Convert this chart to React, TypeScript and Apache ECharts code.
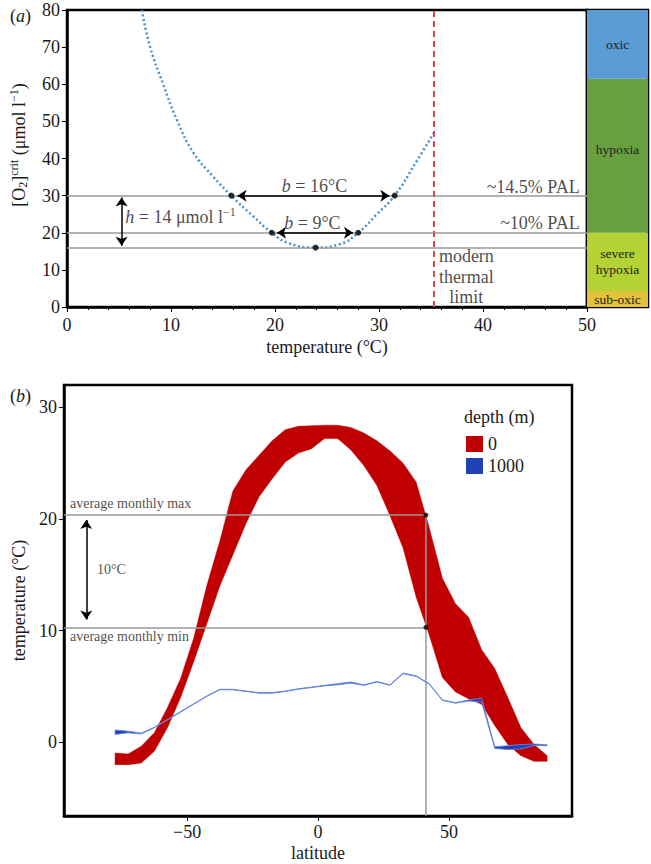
import React, { useEffect, useRef } from 'react';
import * as echarts from 'echarts';

const FONT = '"Liberation Serif", "DejaVu Serif", serif';
const INK = '#1a1a1a';

// ---------- Panel (a): critical O2 vs temperature ----------
const curveTemp = [7.2, 8, 9.25, 10.55, 12.15, 14.0, 15.8, 17.8, 19.7, 21.4, 23.9, 26.2, 28, 29.8, 31.5, 33.6, 35.3];
const curveO2 = [80, 70, 60, 50.5, 41.6, 35.3, 30, 24.7, 20, 17.1, 16, 16.9, 20, 25.0, 30, 39.2, 47];
const keyTemp = [15.8, 31.5, 19.7, 28, 23.9];
const keyO2 = [30, 30, 20, 20, 16];
const refLevels = [30, 20, 16];
const thermalLimit = 35.3;
const zoneNames = ['sub-oxic', 'severe\nhypoxia', 'hypoxia', 'oxic'];
const zoneBounds = [0, 4.3, 20, 61.5, 80];
const zoneColors = ['#E2C23A', '#B4D234', '#67A03F', '#5B9BD6'];
const tempTicks = [0, 50];
const o2Range = [0, 80];

// ---------- Panel (b): temperature vs latitude ----------
const latitude = [-77.5, -72.5, -67.5, -62.5, -57.5, -52.5, -47.5, -42.5, -37.5, -32.5, -27.5, -22.5, -17.5, -12.5, -7.5, -2.5,
  2.5, 7.5, 12.5, 17.5, 22.5, 27.5, 32.5, 37.5, 42.5, 47.5, 52.5, 57.5, 62.5, 67.5, 72.5, 77.5, 82.5, 87.5];
const surfaceMax = [-0.96, -1.05, -0.36, 0.85, 3.1, 5.7, 9.3, 14.0, 18.0, 22.5, 24.4, 25.7, 27.0, 28.0, 28.3, 28.35,
  28.4, 28.4, 28.2, 27.7, 27.0, 26.1, 25.0, 23.3, 19.2, 14.7, 12.4, 11.2, 8.3, 6.6, 4.0, 1.3, -0.2, -1.2];
const surfaceMin = [-2.0, -2.0, -1.85, -0.8, 1.3, 4.0, 7.2, 10.6, 14.0, 16.8, 19.6, 22.0, 23.6, 25.1, 25.9, 26.3,
  27.2, 27.2, 26.2, 24.8, 23.0, 20.3, 17.4, 13.0, 9.6, 5.8, 4.5, 3.9, 3.4, 1.5, -0.2, -1.2, -1.7, -1.7];
const deepMin = [0.7, 0.85, 0.75, 1.3, 2.0, 2.7, 3.4, 4.1, 4.7, 4.7, 4.55, 4.4, 4.4, 4.55, 4.75, 4.9,
  5.05, 5.15, 5.3, 5.1, 5.4, 5.1, 6.15, 5.9, 5.2, 3.75, 3.5, 3.7, 3.6, -0.55, -0.65, -0.6, -0.3, -0.3];
const deepMax = [1.1, 1.0, 0.82, 1.35, 2.05, 2.75, 3.45, 4.15, 4.75, 4.75, 4.6, 4.45, 4.45, 4.6, 4.8, 4.95,
  5.1, 5.25, 5.4, 5.15, 5.45, 5.15, 6.2, 5.95, 5.25, 3.8, 3.55, 3.8, 3.95, -0.4, -0.3, -0.2, -0.15, -0.22];
const latTicks = [-50, 0, 50];
const bTempTicks = [0, 10, 20, 30];
const latRange = [-97, 97];
const bTempRange = [-6.6, 32];
const avgMonthlyMax = 20.35;
const avgMonthlyMin = 10.3;
const refLatitude = 41.2;

const FS = 18;

const rich = {
  i: { fontStyle: 'italic', fontFamily: FONT, fontSize: FS, color: INK },
  sup: { fontFamily: FONT, fontSize: 12, color: INK, verticalAlign: 'top', lineHeight: 21 },
  sub: { fontFamily: FONT, fontSize: 12, color: INK, verticalAlign: 'bottom', lineHeight: 21 },
};

type Note = { text: string; x: number; y: number; pos: string; size: number; lh?: number };

const notesA: Note[] = [
  { text: '{i|b} = 16°C', x: 23.8, y: 32.6, pos: 'inside', size: FS },
  { text: '{i|b} = 9°C', x: 23.6, y: 22.6, pos: 'inside', size: FS },
  { text: '{i|h} = 14 μmol l{sup|−1}', x: 5.6, y: 24.3, pos: 'right', size: FS },
  { text: '~14.5% PAL', x: 49.3, y: 32.4, pos: 'left', size: FS },
  { text: '~10% PAL', x: 49.3, y: 22.5, pos: 'left', size: FS },
  { text: 'modern\nthermal\nlimit', x: 38.4, y: 8.1, pos: 'inside', size: FS, lh: 20.5 },
];
const notesB: Note[] = [
  { text: 'average monthly max', x: -94.7, y: 21.35, pos: 'right', size: 14 },
  { text: 'average monthly min', x: -94.7, y: 9.5, pos: 'right', size: 14 },
  { text: '10°C', x: -84.4, y: 15.5, pos: 'right', size: 14 },
];

function noteSeries(notes: Note[], xi: number, yi: number) {
  return {
    type: 'scatter', xAxisIndex: xi, yAxisIndex: yi, symbolSize: 0, silent: true, z: 20,
    data: notes.map((n) => ({
      value: [n.x, n.y],
      label: {
        show: true, position: n.pos, distance: 0, formatter: n.text,
        fontFamily: FONT, fontSize: n.size, color: INK, lineHeight: n.lh ?? n.size + 3,
        align: n.pos === 'right' ? 'left' : n.pos === 'left' ? 'right' : 'center',
        rich: { ...rich, i: { ...rich.i, fontSize: n.size } },
      },
    })),
  };
}

function arrow(from: number[], to: number[]) {
  return [{ coord: from }, { coord: to }];
}

function bandSeries(name: string, lo: number[], hi: number[], fill: string, stroke: string, strokeWidth: number) {
  return {
    type: 'custom', name, xAxisIndex: 2, yAxisIndex: 2, silent: true, clip: true,
    itemStyle: { color: fill },
    data: latitude.map((la, i) => [la, lo[i], hi[i]]),
    encode: { x: 0, y: [1, 2] },
    renderItem: (params: any, api: any) => {
      if (params.dataIndex !== 0) return null;
      const top = latitude.map((la, i) => api.coord([la, hi[i]]));
      const bottom = latitude.map((la, i) => api.coord([la, lo[i]])).reverse();
      return {
        type: 'polygon',
        shape: { points: [...top, ...bottom] },
        style: { fill, stroke, lineWidth: strokeWidth, lineJoin: 'round' },
      };
    },
  };
}

export default function App() {
  const ref = useRef<HTMLDivElement>(null);
  useEffect(() => {
    if (!ref.current) return;
    const chart = echarts.init(ref.current, null, { renderer: 'svg' });
    const axisName = { fontFamily: FONT, fontSize: FS, color: INK };
    const labelStyle = { fontFamily: FONT, fontSize: FS, color: INK };
    const blackLine = { onZero: false, lineStyle: { color: '#000', width: 2.5 } };

    const zoneSeries = zoneNames.map((nm, i) => ({
      type: 'bar', name: nm, xAxisIndex: 1, yAxisIndex: 1, stack: 'zones', barWidth: '100%',
      data: [zoneBounds[i + 1] - zoneBounds[i]], silent: true,
      itemStyle: { color: zoneColors[i] },
      label: {
        show: true, position: 'inside', formatter: nm, fontFamily: FONT, fontSize: 13.5, color: '#222', lineHeight: 16,
        offset: nm === 'hypoxia' ? [0, -6] : [0, 0],
      },
    }));

    const option: any = {
      animation: false,
      backgroundColor: '#fff',
      textStyle: { fontFamily: FONT },
      title: [
        { text: '({i|a})', left: 5, top: 2, textStyle: { fontFamily: FONT, fontSize: FS, fontWeight: 'normal', color: INK, rich } },
        { text: '({i|b})', left: 5, top: 382, textStyle: { fontFamily: FONT, fontSize: FS, fontWeight: 'normal', color: INK, rich } },
        { text: 'depth (m)', left: 459, top: 403, textStyle: { fontFamily: FONT, fontSize: FS, fontWeight: 'normal', color: INK } },
      ],
      legend: {
        data: [
          { name: '0', itemStyle: { color: '#C00000' } },
          { name: '1000', itemStyle: { color: '#1F41B5' } },
        ],
        orient: 'vertical', left: 461, top: 430, itemWidth: 17, itemHeight: 16, itemGap: 4, icon: 'rect',
        selectedMode: false, textStyle: { fontFamily: FONT, fontSize: FS, color: INK },
      },
      grid: [
        { left: 67, top: 10, width: 520, height: 297, show: true, borderColor: '#000', borderWidth: 2.5, containLabel: false, outerBoundsMode: 'none' },
        { left: 587, top: 10, width: 61, height: 297, show: true, borderColor: '#000', borderWidth: 2.5, containLabel: false, outerBoundsMode: 'none' },
        { left: 64, top: 385, width: 508, height: 431, show: true, borderColor: '#000', borderWidth: 2.5, containLabel: false, outerBoundsMode: 'none' },
      ],
      xAxis: [
        {
          gridIndex: 0, type: 'value', min: tempTicks[0], max: tempTicks[1], interval: 10,
          name: 'temperature (°C)', nameLocation: 'middle', nameGap: 31, nameTextStyle: axisName,
          axisLine: blackLine, axisTick: { show: true, length: 5, lineStyle: { color: '#000', width: 1 } },
          minorTick: { show: true, splitNumber: 5, length: 3, lineStyle: { color: '#000', width: 1 } },
          axisLabel: { ...labelStyle, margin: 9 }, splitLine: { show: false }, minorSplitLine: { show: false },
        },
        { gridIndex: 1, type: 'category', data: ['zone'], show: false },
        {
          gridIndex: 2, type: 'value', min: latRange[0], max: latRange[1],
          name: 'latitude', nameLocation: 'middle', nameGap: 28, nameTextStyle: axisName,
          axisLine: blackLine, axisTick: { show: true, length: 5, customValues: latTicks, lineStyle: { color: '#000', width: 1 } },
          axisLabel: { ...labelStyle, margin: 7, customValues: latTicks, formatter: (v: number) => String(v).replace('-', '−') },
          splitLine: { show: false },
        },
      ],
      yAxis: [
        {
          gridIndex: 0, type: 'value', min: o2Range[0], max: o2Range[1], interval: 10,
          name: '\u2003\u2002[O{sub|2}]{sup|crit} (μmol l{sup|−1})', nameLocation: 'middle', nameGap: 38,
          nameTextStyle: { ...axisName, lineHeight: 21, rich },
          axisLine: blackLine, axisTick: { show: true, length: 5, lineStyle: { color: '#000', width: 1 } },
          axisLabel: { ...labelStyle, margin: 7 }, splitLine: { show: false },
        },
        { gridIndex: 1, type: 'value', min: o2Range[0], max: o2Range[1], show: false, splitLine: { show: false } },
        {
          gridIndex: 2, type: 'value', min: bTempRange[0], max: bTempRange[1],
          name: 'temperature (°C)', nameLocation: 'middle', nameGap: 35, nameTextStyle: axisName,
          axisLine: blackLine, axisTick: { show: true, length: 5, customValues: bTempTicks, lineStyle: { color: '#000', width: 1 } },
          axisLabel: { ...labelStyle, margin: 7, customValues: bTempTicks }, splitLine: { show: false },
        },
      ],
      series: [
        // ---- panel (a)
        {
          type: 'line', xAxisIndex: 0, yAxisIndex: 0, data: [], silent: true,
          markLine: {
            silent: true, symbol: 'none', label: { show: false },
            data: [
              ...refLevels.map((v) => ({ yAxis: v, lineStyle: { color: '#9a9a9a', width: 1.5, type: 'solid' } })),
              { xAxis: thermalLimit, lineStyle: { color: '#E04848', width: 2, type: [6, 4] } },
            ],
          },
        },
        {
          type: 'line', xAxisIndex: 0, yAxisIndex: 0, smooth: 0.5, symbol: 'none', silent: true,
          data: curveTemp.map((t, i) => [t, curveO2[i]]),
          lineStyle: { color: '#4A90D0', width: 2.5, type: [2, 2.6] },
        },
        {
          type: 'line', xAxisIndex: 0, yAxisIndex: 0, data: [], silent: true,
          markLine: {
            silent: true, symbol: ['arrow', 'arrow'], symbolSize: 9, label: { show: false },
            lineStyle: { color: '#000', width: 1.5, type: 'solid' },
            data: [arrow([16.4, 30], [31.0, 30]), arrow([20.2, 20], [27.5, 20]), arrow([5.25, 29.5], [5.25, 16.5])],
          },
        },
        {
          type: 'scatter', xAxisIndex: 0, yAxisIndex: 0, symbolSize: 6, silent: true, z: 15,
          itemStyle: { color: '#000' }, data: keyTemp.map((t, i) => [t, keyO2[i]]),
        },
        noteSeries(notesA, 0, 0),
        ...zoneSeries,
        // ---- panel (b)
        bandSeries('0', surfaceMin, surfaceMax, '#C00000', '#C00000', 0.5),
        bandSeries('1000', deepMin, deepMax, '#1F41B5', '#6A88DC', 0.9),
        {
          type: 'line', xAxisIndex: 2, yAxisIndex: 2, data: [], silent: true,
          markLine: {
            silent: true, symbol: 'none', label: { show: false },
            lineStyle: { color: '#999', width: 1.5, type: 'solid' },
            data: [
              arrow([latRange[0], avgMonthlyMax], [refLatitude, avgMonthlyMax]),
              arrow([latRange[0], avgMonthlyMin], [refLatitude, avgMonthlyMin]),
              arrow([refLatitude, avgMonthlyMax], [refLatitude, bTempRange[0]]),
            ],
          },
        },
        {
          type: 'line', xAxisIndex: 2, yAxisIndex: 2, data: [], silent: true,
          markLine: {
            silent: true, symbol: ['arrow', 'arrow'], symbolSize: 9, label: { show: false },
            lineStyle: { color: '#000', width: 1.5, type: 'solid' },
            data: [arrow([-88.5, 19.9], [-88.5, 11.0])],
          },
        },
        {
          type: 'scatter', xAxisIndex: 2, yAxisIndex: 2, symbolSize: 5, silent: true, z: 15,
          itemStyle: { color: '#000' }, data: [[refLatitude, avgMonthlyMax], [refLatitude, avgMonthlyMin]],
        },
        noteSeries(notesB, 2, 2),
      ],
    };
    chart.setOption(option);
    return () => chart.dispose();
  }, []);
  return <div ref={ref} style={{ position: 'absolute', left: 0, top: 0, width: 651, height: 864, background: '#fff' }} />;
}
